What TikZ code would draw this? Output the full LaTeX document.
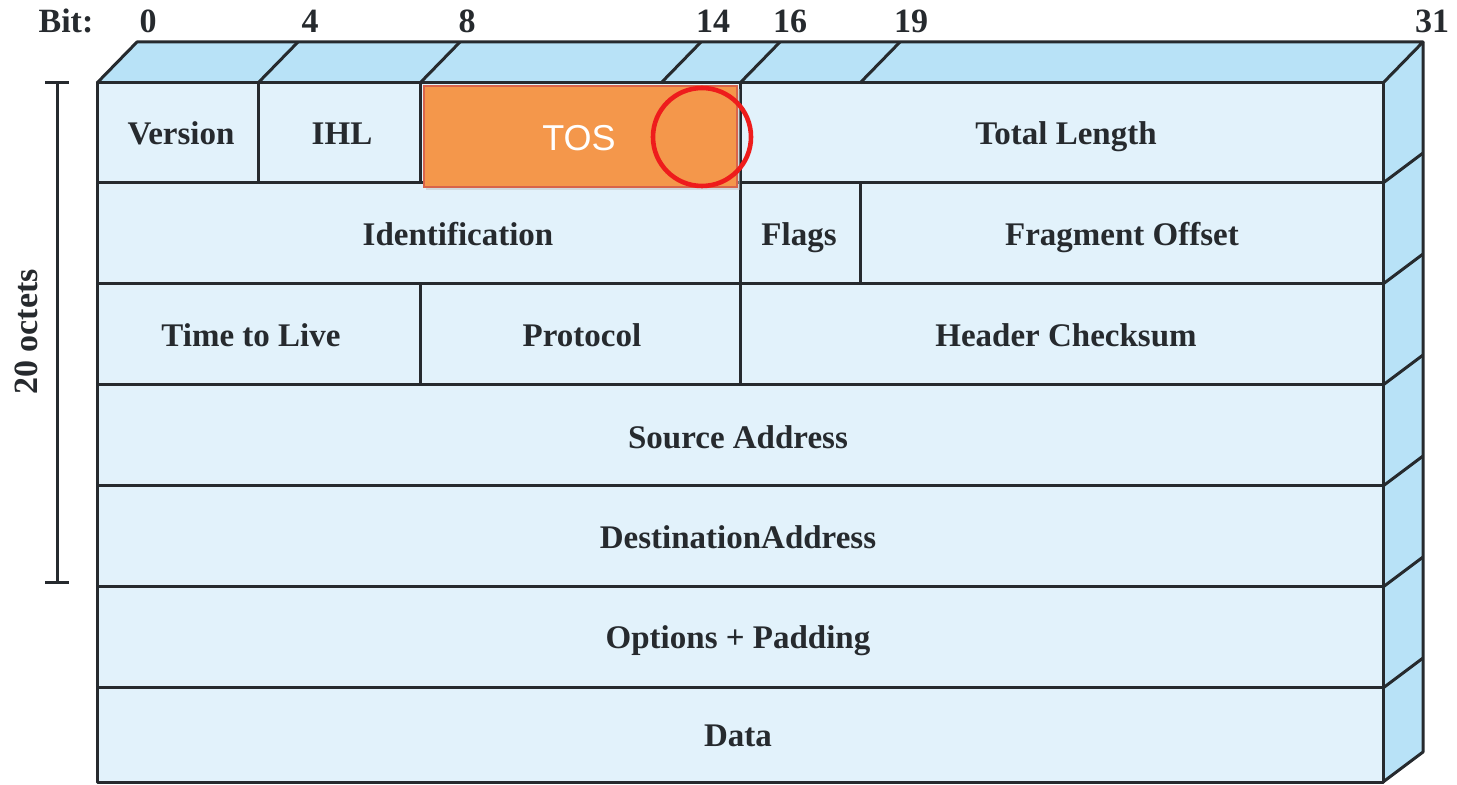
\documentclass[tikz,border=0pt]{standalone}
\usepackage{fontspec}
\setmainfont{Liberation Serif}
\newfontfamily\tosfont{Liberation Sans}
\definecolor{frontc}{HTML}{E2F2FB}
\definecolor{sidec}{HTML}{B8E2F7}
\definecolor{linec}{HTML}{262A2E}
\definecolor{tosc}{HTML}{F4974B}
\definecolor{tosb}{HTML}{D8644A}
\definecolor{ringc}{HTML}{EE1C1C}
\tikzset{
  edge/.style={draw=linec, line width=1.5pt, line join=round},
  field/.style={font=\fontsize{16.5}{18}\selectfont\bfseries, text=linec, text height=11.5pt, text depth=3.5pt, inner sep=0pt, yshift=-2pt},
  bitlab/.style={font=\fontsize{17}{19}\selectfont\bfseries, text=linec, text height=11.5pt, text depth=0.5pt, inner sep=0pt},
}
\begin{document}
\begin{tikzpicture}[x=0.5pt,y=-0.5pt]
\useasboundingbox (0,0) rectangle (1457,785);
% faces
\fill[sidec] (97,83) -- (137,42) -- (1423,42) -- (1383,83) -- cycle;
\fill[sidec] (1383,83) -- (1423,42) -- (1423,752) -- (1383,782) -- cycle;
\fill[frontc] (97,83) rectangle (1383,782);
% top face edges
\draw[edge] (97,83) -- (137,42) -- (1423,42) -- (1383,83);
\foreach \x in {258,420,661,740,860} \draw[edge] (\x,83) -- (\x+40,42);
% right face edges
\draw[edge] (1423,42) -- (1423,752) -- (1383,782);
\foreach \y in {183,284,385,486,587,688} \draw[edge] (1383,\y) -- (1423,\y-30);
% front grid
\draw[edge] (97,83) rectangle (1383,782);
\foreach \y in {183,284,385,486,587,688} \draw[edge] (97,\y) -- (1383,\y);
\draw[edge] (258,83) -- (258,183);
\draw[edge] (420,83) -- (420,183);
\draw[edge] (420,284) -- (420,385);
\draw[edge] (740,83) -- (740,385);
\draw[edge] (860,183) -- (860,284);
% TOS highlight
\fill[black!25, opacity=0.5] (426,89) rectangle (740,190);
\draw[fill=tosc, draw=tosb, line width=0.6pt] (424,86) rectangle (737,187);
\node[font=\tosfont\fontsize{18}{20}\selectfont, text=white] (tos) at (579,138) {TOS};
\node[draw=ringc, line width=2.3pt, circle, minimum size=49pt, inner sep=0pt] (ring) at (702,137) {};
% bit labels
\node[bitlab] (bit) at (66,22) {Bit:};
\node[bitlab] (b0) at (148,22) {0};
\node[bitlab] (b4) at (310,22) {4};
\node[bitlab] (b8) at (467,22) {8};
\node[bitlab] (b14) at (713,22) {14};
\node[bitlab] (b16) at (790,22) {16};
\node[bitlab] (b19) at (911,22) {19};
\node[bitlab] (b31) at (1432,22) {31};
% octets bracket
\coordinate (oct1) at (57,83);
\coordinate (oct2) at (57,583);
\draw[edge] (oct1) -- (oct2);
\draw[edge] (45,83) -- (69,83);
\draw[edge] (45,583) -- (69,583);
\node[bitlab, rotate=90] (oct) at (27,332) {20 octets};
% field labels
\node[field] (ver) at (181,133) {Version};
\node[field] (ihl) at (342,133) {IHL};
\node[field] (tl) at (1066,133) {Total Length};
\node[field] (id) at (458,234) {Identification};
\node[field] (fl) at (799,234) {Flags};
\node[field] (fo) at (1122,234) {Fragment Offset};
\node[field] (ttl) at (251,335) {Time to Live};
\node[field] (pr) at (582,335) {Protocol};
\node[field] (hc) at (1066,335) {Header Checksum};
\node[field] (sa) at (738,437) {Source Address};
\node[field] (da) at (738,537) {DestinationAddress};
\node[field] (op) at (738,637) {Options + Padding};
\node[field] (data) at (738,735) {Data};
\end{tikzpicture}
\end{document}
